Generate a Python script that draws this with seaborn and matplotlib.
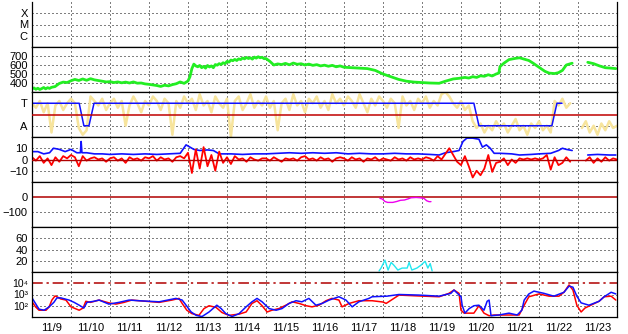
import numpy as np
import pandas as pd
import matplotlib
matplotlib.use("Agg")
import matplotlib.pyplot as plt
import seaborn as sns

sns.set_style("white")
plt.rcParams['font.family'] = ['Liberation Sans', 'DejaVu Sans']
plt.rcParams['font.size'] = 8

# ---------------- data ----------------
day_labels = ["11/9", "11/10", "11/11", "11/12", "11/13", "11/14", "11/15", "11/16",
              "11/17", "11/18", "11/19", "11/20", "11/21", "11/22", "11/23"]
flux_labels = ["10\u2074", "10\u00b3", "10\u00b2"]

# solar wind speed (km/s)
speed_t = [9.0, 9.05, 9.1, 9.15, 9.2, 9.25, 9.3, 9.35, 9.4, 9.45, 9.5, 9.59, 9.7, 9.8, 9.9, 10.0,
           10.1, 10.2, 10.3, 10.4, 10.5, 10.6, 10.7, 10.8, 10.9, 11.0, 11.1, 11.2, 11.3, 11.4, 11.5,
           11.6, 11.7, 11.8, 11.9, 12.0, 12.1, 12.2, 12.3, 12.4, 12.5, 12.6, 12.7, 12.8, 12.9, 13.0,
           13.05, 13.1, 13.15, 13.2, 13.25, 13.3, 13.35, 13.4, 13.45, 13.5, 13.55, 13.6, 13.65, 13.7,
           13.75, 13.8, 13.85, 13.9, 13.95, 14.0, 14.05, 14.1, 14.15, 14.2, 14.25, 14.3, 14.35, 14.4,
           14.45, 14.5, 14.55, 14.6, 14.65, 14.7, 14.75, 14.8, 14.85, 14.9, 14.95, 15.0, 15.1, 15.2,
           15.3, 15.4, 15.5, 15.6, 15.7, 15.8, 15.9, 16.0, 16.1, 16.2, 16.3, 16.4, 16.5, 16.6, 16.7,
           16.8, 16.9, 17.0, 17.2, 17.4, 17.6, 17.8, 17.9, 18.0, 18.2, 18.4, 18.6, 18.8, 19.0, 19.2,
           19.44, 19.6, 19.8, 19.95, 20.1, 20.2, 20.3, 20.4, 20.5, 20.6, 20.7, 20.8, 20.9, 20.97,
           21.0, 21.1, 21.23, 21.4, 21.5, 21.6, 21.74, 21.85, 21.95, 22.05, 22.15, 22.26, 22.4, 22.5,
           22.6, 22.7, 22.85, 22.9, 23.25, 23.4, 23.55, 23.7, 23.85, 23.97]
speed_v = [335, 345, 330, 342, 328, 338, 350, 335, 348, 340, 352, 360, 395, 410, 405, 425,
           440, 428, 445, 430, 448, 435, 428, 420, 412, 415, 405, 412, 402, 410, 400,
           412, 398, 400, 390, 385, 378, 372, 362, 375, 368, 382, 392, 412, 396, 422,
           470, 560, 610, 590, 580, 595, 570, 585, 565, 595, 578, 590, 570, 605, 598,
           615, 605, 625, 615, 640, 632, 655, 648, 662, 650, 668, 660, 678, 668,
           684, 672, 680, 665, 688, 676, 692, 680, 686, 670, 672, 640, 600,
           612, 605, 618, 602, 622, 608, 614, 600, 610, 596, 604, 590, 598, 586, 596,
           580, 590, 575, 570, 565, 560, 540, 520, 500, 470, 440, 420, 410, 405, 400,
           397, 420, 445, 452, 462, 455, 470, 462, 480, 475, 492, 478, 500, 510,
           583, 620, 660, 674, 680, 668, 650, 620, 590, 560, 530, 510, 505, 515,
           540, 600, 620, np.nan, 630, 615, 590, 570, 565, 560]

# IMF direction (T = +0.5, A = -0.5), sampled every 0.1 day
phi_v = [0.5, 0.3, 0.6, 0.1, 0.5, -0.8, 0.4, 0.6, 0.2, 0.5,
         0.7, 0.5, -0.6, -0.9, -0.7, 0.8, 0.6, 0.4, 0.7, 0.2,
         0.5, 0.7, 0.3, 0.6, -0.5, 0.4, 0.8, 0.5, 0.1, 0.6,
         0.4, 0.8, 0.6, 0.2, 0.7, 0.5, -0.9, 0.6, 0.3, 0.8,
         0.5, 0.7, 0.2, 0.9, 0.4, 0.6, 0.1, 0.8, 0.5, 0.3,
         0.7, -1.0, 0.6, 0.8, 0.2, 0.5, 0.9, 0.3, 0.6, 0.4,
         0.8, 0.3, 0.6, -0.7, 0.5, 0.7, 0.2, 0.9, 0.4, 0.6,
         0.1, 0.7, 0.5, 0.8, 0.3, 0.6, 0.2, 0.9, 0.5, 0.7,
         0.4, 0.8, 0.6, 0.3, 0.9, 0.5, 0.1, 0.7, 0.4, 0.8,
         0.6, 0.3, 0.7, 0.5, -0.6, 0.8, 0.4, 0.6, 0.2, 0.7,
         0.5, 0.8, 0.3, 0.6, 0.4, 0.9, 1.0, 0.8, 0.5, 0.3,
         0.6, 0.2, 0.4, -0.3, -0.6, -0.4, -0.8, -0.5, -0.7, -0.3,
         -0.6, -0.4, -0.8, -0.5, -0.2, -0.7, -0.5, -0.9, -0.4, -0.6,
         -0.3, -0.7, -0.5, -0.8, 0.6, 0.4, 0.7, 0.3, 0.5, np.nan,
         np.nan, -0.6, -0.3, -0.8, -0.5, -0.9, -0.4, -0.7, -0.3, -0.6,
         -0.5]
sector_t = [9.0, 10.21, 10.33, 10.46, 10.59, 20.33, 20.46, 22.33, 22.46, 22.59]
sector_v = [0.5, 0.5, -0.5, -0.5, 0.5, 0.5, -0.5, -0.5, 0.5, 0.5]

# Bz (nT), sampled every 0.1 day
bz_v = [2, -1, 3, -3, 1, -5, 2, -2, 3, 1,
        4, 2, -6, 3, -1, 1, 2, 0, 1, -2,
        1, 2, -1, 1, -3, 2, 0, 1, -1, 2,
        1, 3, -1, 2, 0, 1, -2, 2, 3, 1,
        6, -12, 9, -8, 11, -6, 4, -10, 7, -3,
        2, -4, 3, 0, 1, -2, 2, 0, -1, 1,
        1, -1, 2, 0, -2, 1, 0, 1, -1, 2,
        3, 0, 1, -1, 2, 0, 1, -2, 1, 2,
        1, -1, 2, 0, 1, -2, 1, 0, 2, -1,
        1, 0, -1, 2, 0, 1, -1, 2, 0, 1,
        0, 2, 1, -1, 3, 0, 5, 10, 4, -2,
        -5, 3, -6, -16, -10, -14, -8, 4, -11, -3,
        -2, 1, -5, 0, -3, 1, 0, 1, 0, 1,
        0, 1, 4, -9, 2, -5, -3, 2, -2, np.nan,
        np.nan, np.nan, -1, 2, -3, 1, -2, 2, -1, 1,
        0]
# Bt (nT)
bt_t = [9.0, 9.15, 9.3, 9.45, 9.55, 9.7, 9.85, 10.0, 10.15, 10.24, 10.26, 10.28, 10.4, 10.6,
        10.8, 11.0, 11.3, 11.6, 11.9, 12.2, 12.5, 12.8, 12.95, 13.05, 13.15, 13.3, 13.5, 13.65,
        13.8, 14.1, 14.4, 14.7, 15.0, 15.3, 15.6, 15.9, 16.2, 16.5, 16.8, 17.1, 17.4, 17.7, 18.0,
        18.3, 18.6, 18.9, 19.2, 19.44, 19.6, 19.8, 19.95, 20.05, 20.15, 20.3, 20.46, 20.55, 20.65,
        20.75, 20.85, 21.0, 21.3, 21.5, 21.8, 22.0, 22.3, 22.5, 22.6, 22.7, 22.85, 22.9, 23.25,
        23.5, 23.8, 23.97]
bt_v = [7, 7, 5, 6, 10, 9, 7, 9, 6, 6, 16, 6, 6, 5,
        5, 4.5, 5, 4.5, 5, 4.5, 5, 5.5, 13, 11, 9, 8, 8.5, 8,
        5, 5, 4.5, 5, 5, 5.5, 6, 5.5, 6, 5.5, 6, 5, 5.5, 5, 5,
        5.5, 5, 5, 4.5, 4, 6, 7, 8, 16, 19, 19, 18, 11, 13,
        10, 5.5, 5.5, 5, 4, 4.5, 5, 5.5, 8, 10, 9, 8, np.nan, 4,
        4.5, 4, 4]

# Dst (nT)
dst_t = [17.92, 17.98, 18.05, 18.12, 18.25, 18.35, 18.45, 18.55, 18.65, 18.72, 18.85, 18.95,
         19.05, 19.12, 19.18, 19.23]
dst_v = [-9, -13, -30, -36, -36, -30, -22, -20, -12, -5, -3, -5, -9, -25, -31, -31]

# sixth panel (cyan)
cy_t = [17.90, 17.95, 18.05, 18.13, 18.21, 18.28, 18.38, 18.49, 18.62, 18.67, 18.74, 18.87,
        18.97, 19.08, 19.15, 19.21, 19.26]
cy_v = [2, 7, 21, 3.5, 17, 12, 3.5, 7, 7, 17, 3.5, 7, 12, 19, 7, 15, 2]

# particle flux (red / blue)
fr_t = [9.0, 9.09, 9.18, 9.36, 9.44, 9.51, 9.59, 9.64, 9.74, 9.87, 10.0, 10.21, 10.31, 10.38,
        10.5, 10.72, 10.97, 11.15, 11.36, 11.56, 11.74, 12.26, 12.59, 12.77, 12.85, 12.97, 13.10,
        13.28, 13.41, 13.54, 13.72, 13.87, 14.05, 14.31, 14.49, 14.64, 14.77, 14.90, 15.03, 15.15,
        15.33, 15.51, 15.67, 15.85, 16.03, 16.18, 16.36, 16.54, 16.69, 16.87, 16.95, 17.13, 17.38,
        17.72, 18.0, 18.08, 18.41, 18.92, 19.44, 19.69, 19.82, 19.95, 20.0, 20.08, 20.33, 20.46,
        20.59, 20.72, 20.85, 21.0, 21.3, 21.49, 21.62, 21.74, 22.0, 22.26, 22.51, 22.64, 22.77,
        22.87, 22.97, 23.08, 23.18, 23.33, 23.54, 23.67, 23.85, 23.97]
fr_v = [230, 80, 40, 40, 80, 320, 740, 630, 400, 320, 80, 40, 63, 250,
        200, 320, 180, 140, 200, 320, 280, 200, 320, 450, 160, 40, 20,
        14, 56, 100, 71, 25, 14, 18, 28, 160, 280, 100, 28, 40,
        56, 112, 224, 160, 100, 80, 112, 280, 450, 320, 80, 160, 280,
        280, 214, 160, 890, 740, 630, 1260, 2500, 1260, 40, 22, 22, 100,
        22, 13, 15, 15, 15, 15, 112, 630, 1120, 710, 710, 1580, 7080,
        2500, 112, 28, 63, 112, 250, 630, 710, 320]
fb_t = [9.0, 9.08, 9.18, 9.31, 9.44, 9.56, 9.64, 9.74, 9.95, 10.08, 10.21, 10.33, 10.41, 10.59,
        10.72, 10.97, 11.23, 11.49, 11.74, 12.26, 12.69, 12.85, 12.95, 13.08, 13.21, 13.36, 13.54,
        13.74, 13.85, 13.97, 14.13, 14.31, 14.49, 14.64, 14.77, 14.90, 15.08, 15.26, 15.41, 15.59,
        15.77, 15.92, 16.10, 16.28, 16.44, 16.62, 16.87, 17.05, 17.21, 17.38, 17.64, 17.72, 18.10,
        18.41, 18.92, 19.44, 19.74, 19.82, 20.0, 20.03, 20.10, 20.21, 20.33, 20.46, 20.59, 20.67,
        20.72, 20.77, 20.97, 21.23, 21.44, 21.56, 21.62, 21.74, 21.87, 22.13, 22.38, 22.64, 22.77,
        22.87, 22.97, 23.08, 23.28, 23.54, 23.67, 23.85, 23.97]
fb_v = [500, 180, 50, 40, 80, 200, 500, 500, 320, 200, 112, 63, 200, 250,
        320, 140, 200, 320, 280, 224, 450, 320, 112, 28, 14, 11, 28,
        112, 56, 20, 11, 20, 80, 224, 450, 224, 56, 40, 56, 160,
        280, 224, 450, 112, 160, 320, 630, 320, 80, 224, 450, 630, 710,
        1000, 890, 710, 1260, 2500, 630, 112, 22, 56, 100, 112, 40, 250,
        320, 13, 15, 22, 15, 40, 320, 1120, 2000, 1260, 710, 1580, 5600,
        4470, 710, 180, 112, 250, 630, 1580, 1120]

# ---------------- helpers ----------------
def frame(t, v):
    df = pd.DataFrame({"t": np.asarray(t, float), "v": np.asarray(v, float)})
    df["seg"] = df["v"].isna().cumsum()
    return df.dropna()

def line(ax, t, v, color, lw):
    sns.lineplot(data=frame(t, v), x="t", y="v", units="seg", estimator=None,
                 color=color, lw=lw, ax=ax, legend=False, sort=False)

DOT = (0, (1, 3))
GRID_LW = 0.72
DARKRED = "#b00000"

W, H = 628, 334
fig = plt.figure(figsize=(W / 100, H / 100), dpi=100)
left, right = 32, 617
tops = [2, 47, 92, 137, 182, 227, 272]
ph = 45
axes = []
for top in tops:
    ax = fig.add_axes([left / W, (H - top - ph) / H, (right - left) / W, ph / H])
    axes.append(ax)

for i, ax in enumerate(axes):
    ax.set_xlim(9, 24)
    for d in range(10, 24):
        ax.axvline(d, color="black", lw=GRID_LW, ls=DOT, zorder=1)
    for s in ax.spines.values():
        s.set_color("black")
        s.set_linewidth(0.9)
    ax.tick_params(axis="both", length=0, pad=3, labelsize=8, colors="black")
axes[0].spines["top"].set_visible(False)

def hgrid(ax, vals):
    for v in vals:
        ax.axhline(v, color="black", lw=GRID_LW, ls=DOT, zorder=1)

# panel 1 : X M C
ax = axes[0]
ax.set_yscale("log")
ax.set_ylim(1e-7, 1e-3)
ax.set_yticks([1e-4, 1e-5, 1e-6])
ax.set_yticklabels(["X", "M", "C"])
ax.minorticks_off()
hgrid(ax, [1e-4, 1e-5, 1e-6])

# panel 2 : speed
ax = axes[1]
line(ax, speed_t, speed_v, "#22ee22", 2.0)
ax.set_ylim(300, 800)
ax.set_yticks([700, 600, 500, 400])
hgrid(ax, [700, 600, 500, 400])

# panel 3 : T / A
ax = axes[2]
line(ax, np.linspace(9, 24, len(phi_v)), phi_v, "#f7e49c", 1.8)
ax.axhline(0, color="#c00000", lw=1.1, zorder=3)
line(ax, sector_t, sector_v, "#1010ff", 1.1)
ax.set_ylim(-1, 1)
ax.set_yticks([0.5, -0.5])
ax.set_yticklabels(["T", "A"])
hgrid(ax, [0.5, -0.5])

# panel 4 : Bz / Bt
ax = axes[3]
line(ax, bt_t, bt_v, "#1010ff", 1.2)
line(ax, np.linspace(9, 24, len(bz_v)), bz_v, "#ff0000", 1.3)
ax.axhline(0, color=DARKRED, lw=1.0, zorder=4)
ax.set_ylim(-20, 20)
ax.set_yticks([10, 0, -10])
hgrid(ax, [10, -10])

# panel 5 : Dst
ax = axes[4]
ax.axhline(0, color=DARKRED, lw=1.1, zorder=2)
line(ax, dst_t, dst_v, "#ee00ee", 1.0)
ax.set_ylim(-200, 100)
ax.set_yticks([0, -100])
hgrid(ax, [-100])

# panel 6 : cyan
ax = axes[5]
line(ax, cy_t, cy_v, "#22e8f0", 1.0)
ax.set_ylim(0, 80)
ax.set_yticks([60, 40, 20])
hgrid(ax, [60, 40, 20])

# panel 7 : flux
ax = axes[6]
ax.axhline(1e4, color=DARKRED, lw=1.1, dashes=(7, 2.5, 1.5, 2.5), zorder=2)
line(ax, fr_t, fr_v, "#ff0000", 1.1)
line(ax, fb_t, fb_v, "#1010ff", 1.1)
ax.set_yscale("log")
ax.set_ylim(10, 1e5)
ax.set_yticks([1e4, 1e3, 1e2])
ax.set_yticklabels(flux_labels, fontsize=7.5)
ax.minorticks_off()
hgrid(ax, [1e3, 1e2])
ax.set_xticks(np.arange(9.5, 24, 1.0))
ax.set_xticklabels(day_labels)
ax.tick_params(axis="x", pad=4)

for i, ax in enumerate(axes):
    ax.set_xlim(9, 24)
    ax.set_xlabel("")
    ax.set_ylabel("")
    if i < len(axes) - 1:
        ax.set_xticks([])

fig.savefig("out.png", dpi=100)
